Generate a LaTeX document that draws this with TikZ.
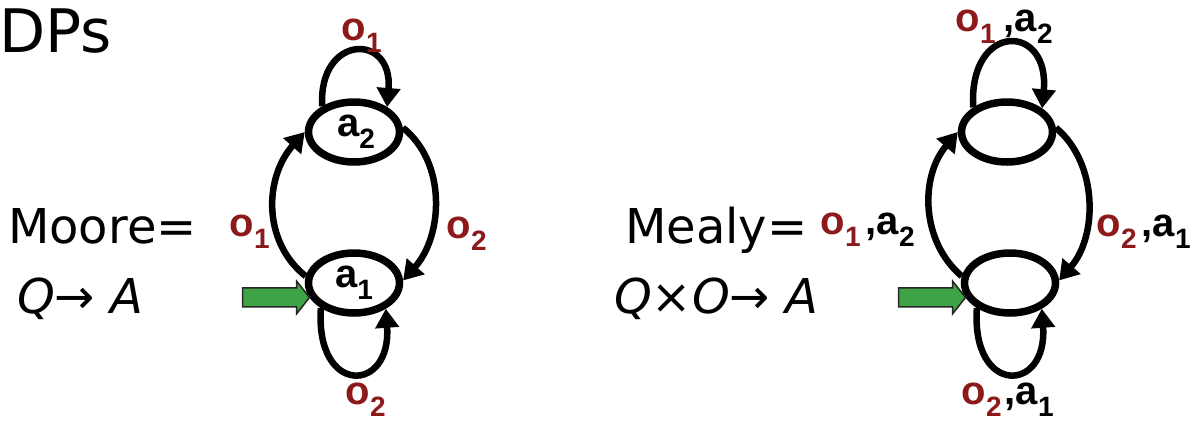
\documentclass[tikz,border=0pt]{standalone}
\usepackage{fontspec}
\setmainfont{DejaVu Sans}
\newfontfamily\labfont{Liberation Sans}
\usetikzlibrary{arrows.meta,shapes.geometric}
\definecolor{darkred}{RGB}{140,26,26}
\definecolor{initgreen}{RGB}{62,163,68}
\newcommand\mysub[2]{#1\raisebox{-12pt}{\fontsize{28}{30}\selectfont #2}}
\tikzset{
  stateellipse/.style={ellipse, draw, line width=7.5pt, minimum width=91pt, minimum height=60pt, inner sep=0pt, font=\labfont\bfseries\fontsize{40}{44}\selectfont},
  trans/.style={line width=6.5pt, -{Triangle[length=19pt,width=23pt]}},
  lbl/.style={anchor=base west, inner sep=0pt, font=\labfont\bfseries\fontsize{40}{44}\selectfont},
  big/.style={anchor=base west, inner sep=0pt, font=\fontsize{48}{56}\selectfont},
  initarrow/.style={fill=initgreen, draw=black!85, line width=1.5pt, line join=miter}
}
\begin{document}
\begin{tikzpicture}[x=1pt,y=-1pt]
\useasboundingbox (0,0) rectangle (1192,421);
% texts
\node[anchor=base west, inner sep=0pt, font=\fontsize{60}{70}\selectfont] (dps) at (-1,52) {DPs};
\node[big] (moore) at (8,243) {Moore=};
\node[big] (mooref) at (17,313) {\itshape Q→ A};
\node[big] (mealy) at (625,243) {Mealy=};
\node[big] (mealyf) at (614,313) {\itshape Q×O→ A};
% Moore machine
\node[stateellipse] (a2) at (354,132) {\hspace{4pt}\mysub{a}{2}};
\node[stateellipse] (a1) at (354,283) {\mysub{a}{1}};
\draw[trans] (a2.141) .. controls +(-4,-72) and +(6,-75) .. (a2.37);
\draw[trans] (a1.172) .. controls +(-44,-35) and +(-40,45) .. (a2.180);
\draw[trans] (a2.5) .. controls +(44,35) and +(40,-45) .. (a1.3);
\draw[trans] (a1.217) .. controls +(-6,88) and +(6,85) .. (a1.321);
\draw[initarrow] (a1.198) -- ++(-13,-16.5) -- ++(0,7) -- ++(-54,0) -- ++(0,19) -- ++(54,0) -- ++(0,7) -- cycle;
\node[lbl] (lt) at (341.5,40) {\color{darkred}\mysub{o}{1}};
\node[lbl] (ll) at (229.5,236) {\color{darkred}\mysub{o}{1}};
\node[lbl] (lr) at (446.5,238) {\color{darkred}\mysub{o}{2}};
\node[lbl] (lb) at (345.5,404) {\color{darkred}\mysub{o}{2}};
% Mealy machine
\node[stateellipse] (b2) at (1007,132) {};
\node[stateellipse] (b1) at (1010,283) {};
\draw[trans] (b2.144) .. controls +(-5,-86) and +(8,-86) .. (b2.34);
\draw[trans] (b1.172) .. controls +(-41,-35) and +(-38,45) .. (b2.180);
\draw[trans] (b2.5) .. controls +(42,35) and +(39,-45) .. (b1.3);
\draw[trans] (b1.217) .. controls +(-6,88) and +(6,85) .. (b1.321);
\draw[initarrow] (b1.198) -- ++(-13,-16.5) -- ++(0,7) -- ++(-54,0) -- ++(0,19) -- ++(54,0) -- ++(0,7) -- cycle;
\node[lbl] (rt) at (955.5,31) {{\color{darkred}\mysub{o}{1}}\hspace{8pt},\mysub{a}{2}};
\node[lbl] (rl) at (820.5,234) {{\color{darkred}\mysub{o}{1}}\hspace{5pt},\mysub{a}{2}};
\node[lbl] (rr) at (1096.5,236) {{\color{darkred}\mysub{o}{2}}\hspace{5pt},\mysub{a}{1}};
\node[lbl] (rb) at (961.5,404) {{\color{darkred}\mysub{o}{2}}\hspace{3pt},\mysub{a}{1}};
\end{tikzpicture}
\end{document}
